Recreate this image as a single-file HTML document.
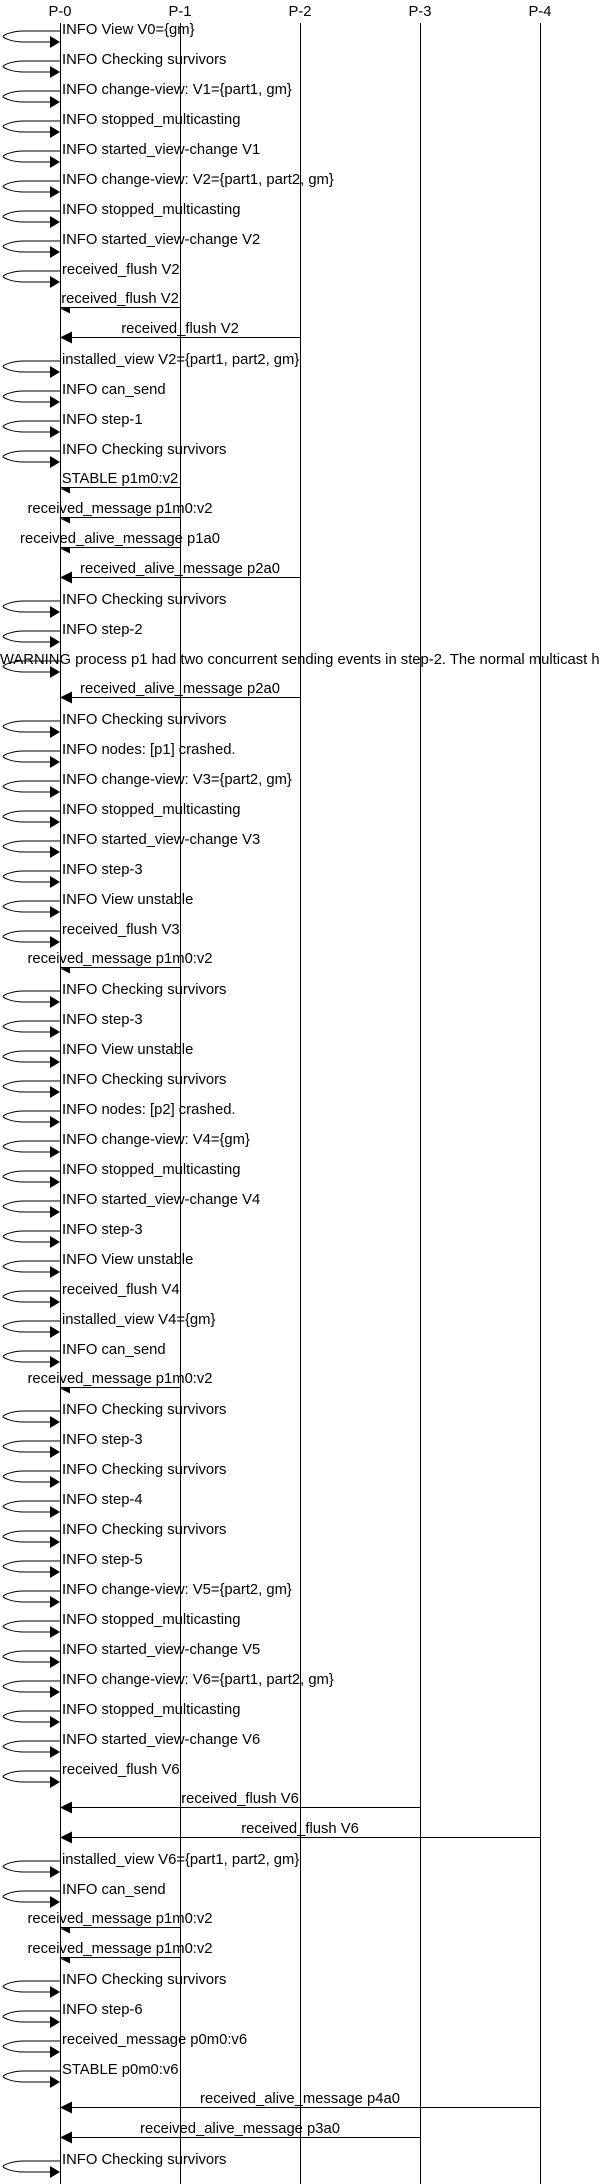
<!DOCTYPE html>
<html><head><meta charset="utf-8"><style>
html,body{margin:0;padding:0;background:#fff;width:600px;height:2184px;overflow:hidden}
svg{display:block}
text{font-family:"Liberation Sans",sans-serif;font-size:14.8px;fill:#000}
.m{text-anchor:middle}
</style></head><body>
<svg width="600" height="2184" viewBox="0 0 600 2184" xmlns="http://www.w3.org/2000/svg">
<defs>
<g id="S"><path d="M60,0 H24 C12,0 3,4 3,5.5 C3,7 12,11 24,11 H50" fill="none" stroke="#000" stroke-width="1"/><polygon points="50,5 60,11 50,17" fill="#000"/></g>
<polygon id="B" points="60,0 72,-6 72,6" fill="#000"/>
<polygon id="A" points="60,1 70,0 70,6" fill="#000"/>
</defs>
<g stroke="#000" stroke-width="1">
<line x1="60.5" y1="23" x2="60.5" y2="2184"/>
<line x1="180.5" y1="23" x2="180.5" y2="2184"/>
<line x1="300.5" y1="23" x2="300.5" y2="2184"/>
<line x1="420.5" y1="23" x2="420.5" y2="2184"/>
<line x1="540.5" y1="23" x2="540.5" y2="2184"/>
</g>
<text class="m" x="60" y="16">P-0</text>
<text class="m" x="180" y="16">P-1</text>
<text class="m" x="300" y="16">P-2</text>
<text class="m" x="420" y="16">P-3</text>
<text class="m" x="540" y="16">P-4</text>

<use href="#S" y="31"/><use href="#S" y="61"/><use href="#S" y="91"/><use href="#S" y="121"/><use href="#S" y="151"/><use href="#S" y="181"/><use href="#S" y="211"/><use href="#S" y="241"/><use href="#S" y="271"/>
<use href="#S" y="361"/><use href="#S" y="391"/><use href="#S" y="421"/><use href="#S" y="451"/>
<use href="#S" y="601"/><use href="#S" y="631"/><use href="#S" y="661"/>
<use href="#S" y="721"/><use href="#S" y="751"/><use href="#S" y="781"/><use href="#S" y="811"/><use href="#S" y="841"/><use href="#S" y="871"/><use href="#S" y="901"/><use href="#S" y="931"/>
<use href="#S" y="991"/><use href="#S" y="1021"/><use href="#S" y="1051"/><use href="#S" y="1081"/><use href="#S" y="1111"/><use href="#S" y="1141"/><use href="#S" y="1171"/><use href="#S" y="1201"/><use href="#S" y="1231"/><use href="#S" y="1261"/><use href="#S" y="1291"/><use href="#S" y="1321"/><use href="#S" y="1351"/>
<use href="#S" y="1411"/><use href="#S" y="1441"/><use href="#S" y="1471"/><use href="#S" y="1501"/><use href="#S" y="1531"/><use href="#S" y="1561"/><use href="#S" y="1591"/><use href="#S" y="1621"/><use href="#S" y="1651"/><use href="#S" y="1681"/><use href="#S" y="1711"/><use href="#S" y="1741"/><use href="#S" y="1771"/>
<use href="#S" y="1861"/><use href="#S" y="1891"/>
<use href="#S" y="1981"/><use href="#S" y="2011"/><use href="#S" y="2041"/><use href="#S" y="2071"/>
<use href="#S" y="2161"/>

<text x="62" y="34">INFO View V0={gm}</text>
<text x="62" y="64">INFO Checking survivors</text>
<text x="62" y="94">INFO change-view: V1={part1, gm}</text>
<text x="62" y="124">INFO stopped_multicasting</text>
<text x="62" y="154">INFO started_view-change V1</text>
<text x="62" y="184">INFO change-view: V2={part1, part2, gm}</text>
<text x="62" y="214">INFO stopped_multicasting</text>
<text x="62" y="244">INFO started_view-change V2</text>
<text x="62" y="274">received_flush V2</text>
<text x="62" y="364">installed_view V2={part1, part2, gm}</text>
<text x="62" y="394">INFO can_send</text>
<text x="62" y="424">INFO step-1</text>
<text x="62" y="454">INFO Checking survivors</text>
<text x="62" y="604">INFO Checking survivors</text>
<text x="62" y="634">INFO step-2</text>
<text x="0" y="664">WARNING process p1 had two concurrent sending events in step-2. The normal multicast has been interrupted</text>
<text x="62" y="724">INFO Checking survivors</text>
<text x="62" y="754">INFO nodes: [p1] crashed.</text>
<text x="62" y="784">INFO change-view: V3={part2, gm}</text>
<text x="62" y="814">INFO stopped_multicasting</text>
<text x="62" y="844">INFO started_view-change V3</text>
<text x="62" y="874">INFO step-3</text>
<text x="62" y="904">INFO View unstable</text>
<text x="62" y="934">received_flush V3</text>
<text x="62" y="994">INFO Checking survivors</text>
<text x="62" y="1024">INFO step-3</text>
<text x="62" y="1054">INFO View unstable</text>
<text x="62" y="1084">INFO Checking survivors</text>
<text x="62" y="1114">INFO nodes: [p2] crashed.</text>
<text x="62" y="1144">INFO change-view: V4={gm}</text>
<text x="62" y="1174">INFO stopped_multicasting</text>
<text x="62" y="1204">INFO started_view-change V4</text>
<text x="62" y="1234">INFO step-3</text>
<text x="62" y="1264">INFO View unstable</text>
<text x="62" y="1294">received_flush V4</text>
<text x="62" y="1324">installed_view V4={gm}</text>
<text x="62" y="1354">INFO can_send</text>
<text x="62" y="1414">INFO Checking survivors</text>
<text x="62" y="1444">INFO step-3</text>
<text x="62" y="1474">INFO Checking survivors</text>
<text x="62" y="1504">INFO step-4</text>
<text x="62" y="1534">INFO Checking survivors</text>
<text x="62" y="1564">INFO step-5</text>
<text x="62" y="1594">INFO change-view: V5={part2, gm}</text>
<text x="62" y="1624">INFO stopped_multicasting</text>
<text x="62" y="1654">INFO started_view-change V5</text>
<text x="62" y="1684">INFO change-view: V6={part1, part2, gm}</text>
<text x="62" y="1714">INFO stopped_multicasting</text>
<text x="62" y="1744">INFO started_view-change V6</text>
<text x="62" y="1774">received_flush V6</text>
<text x="62" y="1864">installed_view V6={part1, part2, gm}</text>
<text x="62" y="1894">INFO can_send</text>
<text x="62" y="1984">INFO Checking survivors</text>
<text x="62" y="2014">INFO step-6</text>
<text x="62" y="2044">received_message p0m0:v6</text>
<text x="62" y="2074">STABLE p0m0:v6</text>
<text x="62" y="2164">INFO Checking survivors</text>

<g stroke="#000" stroke-width="1">
<line x1="60" y1="307.5" x2="180" y2="307.5"/>
<line x1="60" y1="337.5" x2="300" y2="337.5"/>
<line x1="60" y1="487.5" x2="180" y2="487.5"/>
<line x1="60" y1="517.5" x2="180" y2="517.5"/>
<line x1="60" y1="547.5" x2="180" y2="547.5"/>
<line x1="60" y1="577.5" x2="300" y2="577.5"/>
<line x1="60" y1="697.5" x2="300" y2="697.5"/>
<line x1="60" y1="967.5" x2="180" y2="967.5"/>
<line x1="60" y1="1387.5" x2="180" y2="1387.5"/>
<line x1="60" y1="1807.5" x2="420" y2="1807.5"/>
<line x1="60" y1="1837.5" x2="540" y2="1837.5"/>
<line x1="60" y1="1927.5" x2="180" y2="1927.5"/>
<line x1="60" y1="1957.5" x2="180" y2="1957.5"/>
<line x1="60" y1="2107.5" x2="540" y2="2107.5"/>
<line x1="60" y1="2137.5" x2="420" y2="2137.5"/>
</g>
<use href="#A" y="307.5"/><use href="#B" y="337.5"/>
<use href="#A" y="487.5"/><use href="#A" y="517.5"/><use href="#A" y="547.5"/><use href="#B" y="577.5"/>
<use href="#B" y="697.5"/><use href="#A" y="967.5"/><use href="#A" y="1387.5"/>
<use href="#B" y="1807.5"/><use href="#B" y="1837.5"/>
<use href="#A" y="1927.5"/><use href="#A" y="1957.5"/>
<use href="#B" y="2107.5"/><use href="#B" y="2137.5"/>

<text class="m" x="120" y="303">received_flush V2</text>
<text class="m" x="180" y="333">received_flush V2</text>
<text class="m" x="120" y="483">STABLE p1m0:v2</text>
<text class="m" x="120" y="513">received_message p1m0:v2</text>
<text class="m" x="120" y="543">received_alive_message p1a0</text>
<text class="m" x="180" y="573">received_alive_message p2a0</text>
<text class="m" x="180" y="693">received_alive_message p2a0</text>
<text class="m" x="120" y="963">received_message p1m0:v2</text>
<text class="m" x="120" y="1383">received_message p1m0:v2</text>
<text class="m" x="240" y="1803">received_flush V6</text>
<text class="m" x="300" y="1833">received_flush V6</text>
<text class="m" x="120" y="1923">received_message p1m0:v2</text>
<text class="m" x="120" y="1953">received_message p1m0:v2</text>
<text class="m" x="300" y="2103">received_alive_message p4a0</text>
<text class="m" x="240" y="2133">received_alive_message p3a0</text>
</svg>
</body></html>
